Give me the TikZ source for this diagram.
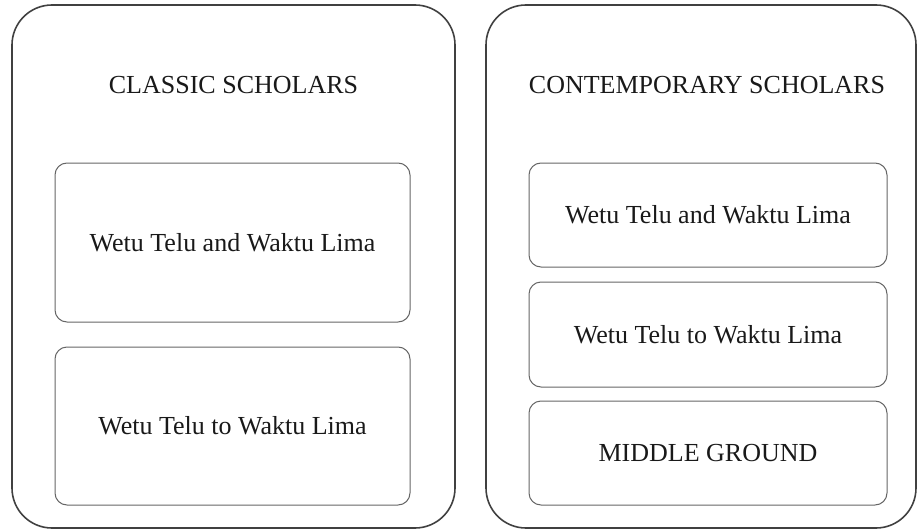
\documentclass[tikz,border=0pt]{standalone}
\usepackage{fontspec}
\setmainfont{Liberation Serif}
\begin{document}
\begin{tikzpicture}[x=1pt,y=-1pt,
  panel/.style={draw=black!75, line width=1.6pt, rounded corners=40pt, inner sep=0pt},
  item/.style={draw=black!60, line width=1pt, rounded corners=12pt, inner sep=0pt,
               text=black!90, font=\fontsize{26}{30}\selectfont},
  heading/.style={inner sep=0pt, text=black!90, font=\fontsize{26}{30}\selectfont}]
\useasboundingbox (0,0) rectangle (919,530);

% two outer panels
\node[panel, minimum width=443pt, minimum height=523pt] (classic) at (233.5,266.5) {};
\node[panel, minimum width=430pt, minimum height=523pt] (contemp) at (701,266.5) {};

% headings
\node[heading] (classicTitle) at (233.5,85) {CLASSIC SCHOLARS};
\node[heading] (contempTitle) at (707,85) {CONTEMPORARY SCHOLARS};

% classic scholars' views
\node[item, minimum width=355pt, minimum height=159pt] (c1) at (232.5,242.5) {Wetu Telu and Waktu Lima};
\node[item, minimum width=355pt, minimum height=158pt] (c2) at (232.5,426) {Wetu Telu to Waktu Lima};

% contemporary scholars' views
\node[item, minimum width=358pt, minimum height=104pt] (m1) at (708,215) {Wetu Telu and Waktu Lima};
\node[item, minimum width=358pt, minimum height=105pt] (m2) at (708,334.5) {Wetu Telu to Waktu Lima};
\node[item, minimum width=358pt, minimum height=104pt] (m3) at (708,453) {MIDDLE GROUND};
\end{tikzpicture}
\end{document}
